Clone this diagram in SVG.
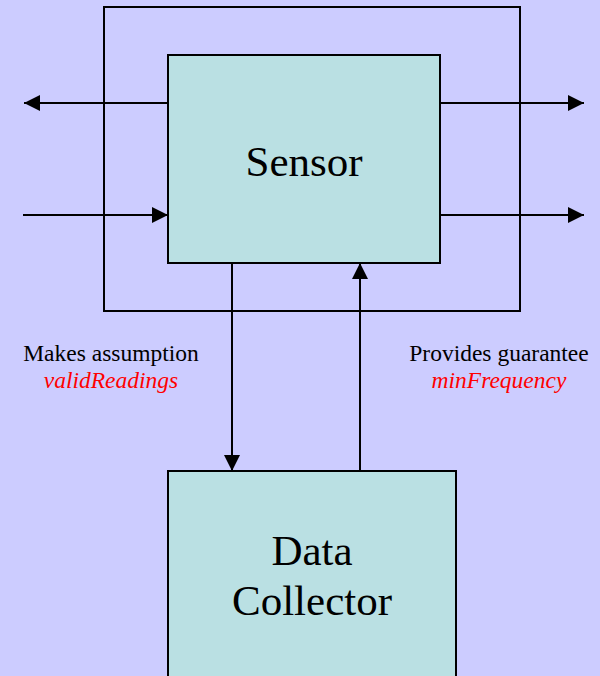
<svg xmlns="http://www.w3.org/2000/svg" width="600" height="676" viewBox="0 0 600 676">
  <defs>
    <marker id="arrow" viewBox="0 0 16 16" refX="16" refY="8" markerWidth="16" markerHeight="16" markerUnits="userSpaceOnUse" orient="auto">
      <path d="M0,0 L16,8 L0,16 Z" fill="#000"/>
    </marker>
    <style>
      .box { fill: #bae0e3; stroke: #000; stroke-width: 2; }
      .frame { fill: none; stroke: #000; stroke-width: 2; }
      .conn { fill: none; stroke: #000; stroke-width: 2; marker-end: url(#arrow); }
      .title { font-family: "Liberation Serif", "Times New Roman", serif; font-size: 43px; fill: #000; text-anchor: middle; }
      .label { font-family: "Liberation Serif", "Times New Roman", serif; font-size: 23.5px; fill: #000; text-anchor: middle; }
      .term { font-family: "Liberation Serif", "Times New Roman", serif; font-size: 23.5px; font-style: italic; fill: #ff0000; text-anchor: middle; }
    </style>
  </defs>

  <rect width="600" height="676" fill="#ccccff"/>

  <!-- enclosing boundary -->
  <rect class="frame" x="104" y="7" width="416" height="304"/>

  <g id="sensor">
    <rect class="box" x="168" y="55" width="272" height="208"/>
    <text class="title" x="304" y="176">Sensor</text>
  </g>

  <g id="data-collector">
    <rect class="box" x="168" y="471" width="288" height="220"/>
    <text class="title" x="312" y="565">Data</text>
    <text class="title" x="312" y="615">Collector</text>
  </g>

  <g id="connectors">
    <line class="conn" x1="168" y1="103" x2="24" y2="103"/>
    <line class="conn" x1="23" y1="215" x2="168" y2="215"/>
    <line class="conn" x1="440" y1="103" x2="584" y2="103"/>
    <line class="conn" x1="440" y1="215" x2="584" y2="215"/>
    <line class="conn" x1="232" y1="263" x2="232" y2="471"/>
    <line class="conn" x1="360" y1="471" x2="360" y2="263"/>
  </g>

  <g id="labels">
    <text class="label" x="111" y="361">Makes assumption</text>
    <text class="term" x="111" y="388">validReadings</text>
    <text class="label" x="499" y="361">Provides guarantee</text>
    <text class="term" x="499" y="388">minFrequency</text>
  </g>
</svg>
